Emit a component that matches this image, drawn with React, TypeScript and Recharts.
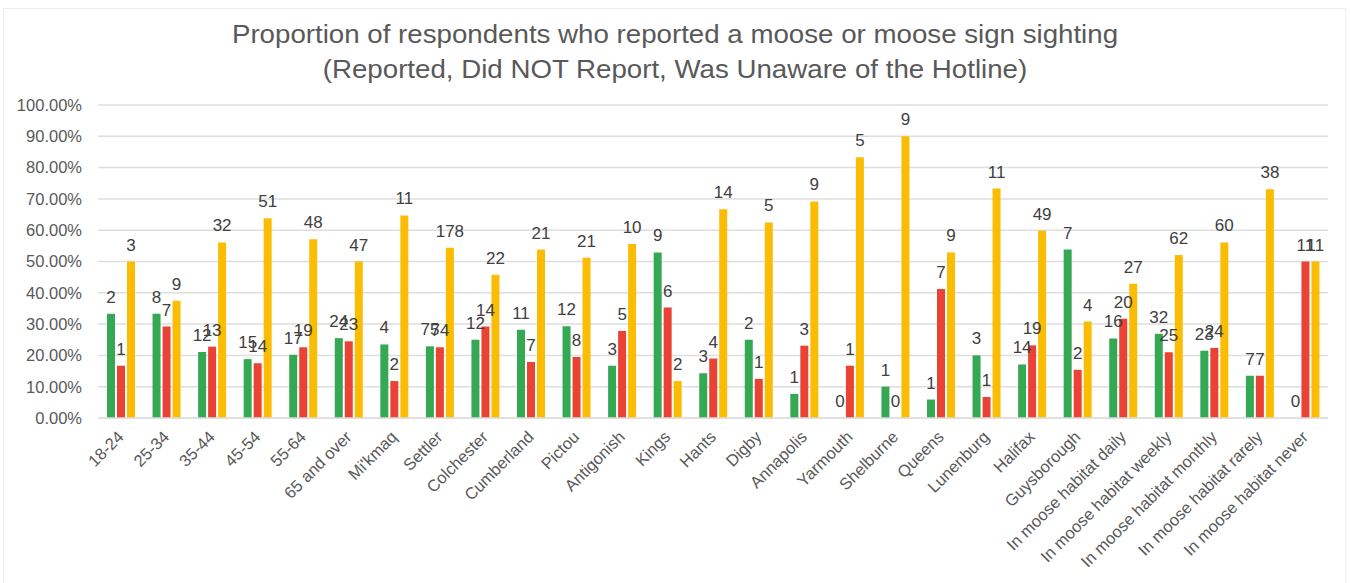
import React from "react";
import { BarChart, Bar, XAxis, YAxis, CartesianGrid, LabelList } from "recharts";

// Respondent groups along the x-axis
const categories = [
  "18-24",
  "25-34",
  "35-44",
  "45-54",
  "55-64",
  "65 and over",
  "Mi'kmaq",
  "Settler",
  "Colchester",
  "Cumberland",
  "Pictou",
  "Antigonish",
  "Kings",
  "Hants",
  "Digby",
  "Annapolis",
  "Yarmouth",
  "Shelburne",
  "Queens",
  "Lunenburg",
  "Halifax",
  "Guysborough",
  "In moose habitat daily",
  "In moose habitat weekly",
  "In moose habitat monthly",
  "In moose habitat rarely",
  "In moose habitat never",
];

// Share of each group (percent)
const reportedPct = [33.3, 33.3, 21.1, 18.8, 20.2, 25.5, 23.5, 22.9, 25.0, 28.2, 29.3, 16.7, 52.9, 14.3, 25.0, 7.7, 0, 10.0, 5.9, 20.0, 17.1, 53.8, 25.4, 26.9, 21.5, 13.5, 0];
const notReportedPct = [16.7, 29.2, 22.8, 17.5, 22.6, 24.5, 11.8, 22.6, 29.2, 17.9, 19.5, 27.8, 35.3, 19.0, 12.5, 23.1, 16.7, 0, 41.2, 6.7, 23.2, 15.4, 31.7, 21.0, 22.4, 13.5, 50.0];
const unawarePct = [50.0, 37.5, 56.1, 63.8, 57.1, 50.0, 64.7, 54.4, 45.8, 53.8, 51.2, 55.6, 11.8, 66.7, 62.5, 69.2, 83.3, 90.0, 52.9, 73.3, 59.8, 30.8, 42.9, 52.1, 56.1, 73.1, 50.0];

// Respondent counts shown above each bar
const reportedN = [2, 8, 12, 15, 17, 24, 4, 75, 12, 11, 12, 3, 9, 3, 2, 1, 0, 1, 1, 3, 14, 7, 16, 32, 23, 7, 0];
const notReportedN = [1, 7, 13, 14, 19, 23, 2, 74, 14, 7, 8, 5, 6, 4, 1, 3, 1, 0, 7, 1, 19, 2, 20, 25, 24, 7, 11];
const unawareN = [3, 9, 32, 51, 48, 47, 11, 178, 22, 21, 21, 10, 2, 14, 5, 9, 5, 9, 9, 11, 49, 4, 27, 62, 60, 38, 11];

const yTicks = [0, 10, 20, 30, 40, 50, 60, 70, 80, 90, 100];

const titleLines = [
  "Proportion of respondents who reported a moose or moose sign sighting",
  "(Reported, Did NOT Report, Was Unaware of the Hotline)",
];

const FONT = '"Liberation Sans", Arial, sans-serif';
const GREEN = "#34a853";
const RED = "#ea4335";
const YELLOW = "#fbbc04";
const TEXT = "#595959";
const LABEL = "#404040";
const GRID = "#dedede";

const data = categories.map((name, i) => ({
  name,
  reported: reportedPct[i],
  notReported: notReportedPct[i],
  unaware: unawarePct[i],
  reportedN: reportedN[i],
  notReportedN: notReportedN[i],
  unawareN: unawareN[i],
}));

// keeps an empty (0%) bar in the layout so its count label is still placed
const keepEmptyBar = (value: any) => (Number(value) === 0 ? 0.01 : 0);

const CategoryTick = (props: any) => {
  const { x, y, payload } = props;
  const ax = x + 4;
  const ay = y + 12;
  return (
    <text
      x={ax}
      y={ay}
      transform={`rotate(-45, ${ax}, ${ay})`}
      textAnchor="end"
      fontSize={16.5}
      fill={TEXT}
      fontFamily={FONT}
    >
      {payload.value}
    </text>
  );
};

// Count label centred above a bar
const CountLabel = (props: any) => {
  const { x, y, width, value } = props;
  if (x == null || y == null) return null;
  return (
    <text
      x={Number(x) + Number(width) / 2}
      y={Number(y) - 11}
      textAnchor="middle"
      fontSize={17}
      fill={LABEL}
      fontFamily={FONT}
    >
      {String(value)}
    </text>
  );
};

export default function App() {
  return (
    <div
      style={{
        position: "absolute",
        left: 0,
        top: 0,
        width: 1350,
        height: 583,
        background: "#ffffff",
        overflow: "hidden",
        fontFamily: FONT,
      }}
    >
      <div
        style={{
          position: "absolute",
          left: 3,
          top: 8,
          width: 1343,
          height: 600,
          borderLeft: "1px solid #eeeeee",
          borderTop: "1px solid #eeeeee",
          borderRight: "1px solid #eeeeee",
          boxSizing: "border-box",
        }}
      />
      <div
        style={{
          position: "absolute",
          left: 0,
          top: 17,
          width: 1350,
          textAlign: "center",
          fontSize: 25,
          lineHeight: "35px",
          color: TEXT,
          transform: "scaleX(1.107)",
          transformOrigin: "675px 0",
        }}
      >
        {titleLines.map((t) => (
          <div key={t}>{t}</div>
        ))}
      </div>
      <div style={{ position: "absolute", left: 0, top: 0 }}>
        <BarChart
          width={1350}
          height={583}
          data={data}
          margin={{ top: 105, right: 22, bottom: 0, left: 8 }}
          barSize={8}
          barGap={2}
        >
          <CartesianGrid vertical={false} stroke={GRID} strokeWidth={1.5} />
          <XAxis
            dataKey="name"
            interval={0}
            height={165}
            tickLine={false}
            axisLine={{ stroke: GRID, strokeWidth: 1.5 }}
            tick={<CategoryTick />}
          />
          <YAxis
            width={90}
            domain={[0, 100]}
            ticks={yTicks}
            tickFormatter={(v: number) => `${v.toFixed(2)}%`}
            axisLine={false}
            tickLine={false}
            tickMargin={10}
            tick={{ fontSize: 16.5, fill: TEXT, fontFamily: FONT }}
          />
          <Bar dataKey="reported" fill={GREEN} minPointSize={keepEmptyBar} isAnimationActive={false}>
            <LabelList dataKey="reportedN" content={<CountLabel />} />
          </Bar>
          <Bar dataKey="notReported" fill={RED} minPointSize={keepEmptyBar} isAnimationActive={false}>
            <LabelList dataKey="notReportedN" content={<CountLabel />} />
          </Bar>
          <Bar dataKey="unaware" fill={YELLOW} minPointSize={keepEmptyBar} isAnimationActive={false}>
            <LabelList dataKey="unawareN" content={<CountLabel />} />
          </Bar>
        </BarChart>
      </div>
    </div>
  );
}
